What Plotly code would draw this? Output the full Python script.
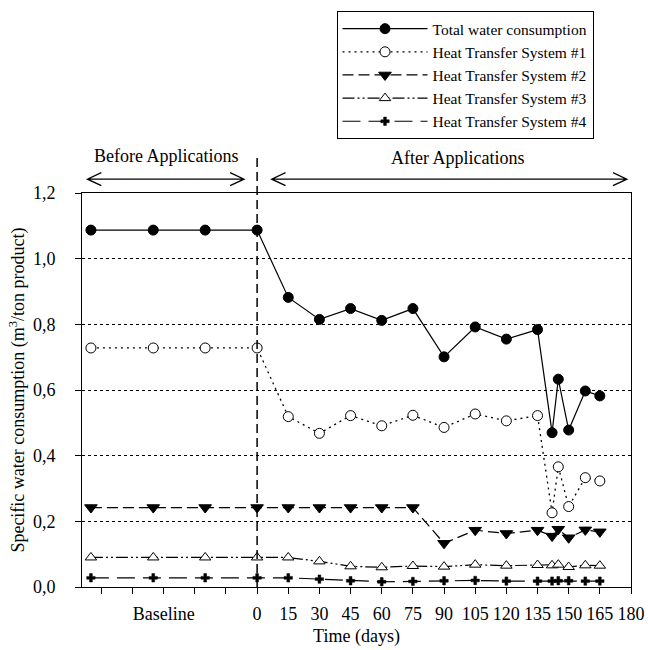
import plotly.graph_objects as go

# ---- data ----
days = [-80, -50, -25, 0, 15, 30, 45, 60, 75, 90, 105, 120, 135, 142, 145, 150, 158, 165]
total = [1.087, 1.087, 1.087, 1.087, 0.882, 0.815, 0.848, 0.812, 0.848, 0.701, 0.792, 0.755, 0.784,
         0.470, 0.633, 0.478, 0.597, 0.582]
hts1 = [0.728, 0.728, 0.728, 0.728, 0.519, 0.468, 0.522, 0.491, 0.523, 0.486, 0.527, 0.506, 0.522,
        0.226, 0.366, 0.245, 0.333, 0.323]
hts2 = [0.242, 0.242, 0.242, 0.242, 0.242, 0.242, 0.242, 0.242, 0.242, 0.133, 0.173, 0.163, 0.173,
        0.155, 0.176, 0.150, 0.174, 0.168]
hts3 = [0.090, 0.090, 0.090, 0.090, 0.090, 0.078, 0.063, 0.060, 0.064, 0.062, 0.068, 0.065, 0.067,
        0.066, 0.068, 0.061, 0.066, 0.065]
hts4 = [0.028, 0.028, 0.028, 0.028, 0.028, 0.024, 0.019, 0.016, 0.017, 0.019, 0.020, 0.018, 0.018,
        0.018, 0.019, 0.019, 0.018, 0.018]
series_names = ["Total water consumption", "Heat Transfer System #1", "Heat Transfer System #2",
                "Heat Transfer System #3", "Heat Transfer System #4"]

x_tickvals = [-45, 0, 15, 30, 45, 60, 75, 90, 105, 120, 135, 150, 165, 180]
x_ticktext = ["Baseline", "0", "15", "30", "45", "60", "75", "90", "105", "120",
              "135", "150", "165", "180"]
x_minor_tickvals = [-75, -60, -30, -15]
y_tickvals = [0.0, 0.2, 0.4, 0.6, 0.8, 1.0, 1.2]

before_span = [-81.7, -6.3]
after_span = [7.0, 178.0]

FONT = "Liberation Serif"

fig = go.Figure()

styles = [
    dict(line=dict(color="black", width=1.2, dash="solid"),
         marker=dict(symbol="circle", size=10, color="black", line=dict(color="black", width=1))),
    dict(line=dict(color="black", width=1.3, dash="2px,4px"),
         marker=dict(symbol="circle", size=10, color="white", line=dict(color="black", width=1))),
    dict(line=dict(color="black", width=1.2, dash="11px,5px"),
         marker=dict(symbol="triangle-down", size=11, color="black", line=dict(color="black", width=1))),
    dict(line=dict(color="black", width=1.2, dash="12px,3px,2px,3px,2px,3px"),
         marker=dict(symbol="triangle-up", size=10, color="white", line=dict(color="black", width=1))),
    dict(line=dict(color="black", width=1.2, dash="18px,8px"),
         marker=dict(symbol="cross", size=7, color="black", line=dict(color="black", width=0.5))),
]

for name, ys, st in zip(series_names, [total, hts1, hts2, hts3, hts4], styles):
    fig.add_trace(go.Scatter(x=days, y=ys, name=name, mode="lines+markers",
                             line=st["line"], marker=st["marker"]))

# vertical dashed separator at day 0
fig.add_shape(type="line", xref="x", yref="paper", x0=0, x1=0, y0=0, y1=1.09,
              line=dict(color="black", width=1.5, dash="9px,5px"))

# double-headed arrows
arrow_y = 1.035
hh = 0.0165
cw = 6.7
for a, b in [before_span, after_span]:
    path = (f"M {a + cw},{arrow_y + hh} L {a},{arrow_y} L {a + cw},{arrow_y - hh} "
            f"M {a},{arrow_y} L {b},{arrow_y} "
            f"M {b - cw},{arrow_y + hh} L {b},{arrow_y} L {b - cw},{arrow_y - hh}")
    fig.add_shape(type="path", xref="x", yref="paper", path=path,
                  line=dict(color="black", width=1.3))

fig.add_annotation(x=sum(before_span) / 2, y=1.093, xref="x", yref="paper",
                   xanchor="center", yanchor="middle",
                   text="Before Applications", showarrow=False,
                   font=dict(family=FONT, size=18, color="black"))
fig.add_annotation(x=sum(after_span) / 2 + 4, y=1.09, xref="x", yref="paper",
                   xanchor="center", yanchor="middle",
                   text="After Applications", showarrow=False,
                   font=dict(family=FONT, size=18, color="black"))

fig.update_layout(
    width=648, height=650,
    margin=dict(l=82, r=17, t=192, b=63),
    paper_bgcolor="white", plot_bgcolor="white",
    separators=",.",
    font=dict(family=FONT, size=18, color="black"),
    showlegend=True,
    legend=dict(x=0.4636, y=1.458, xanchor="left", yanchor="top",
                bgcolor="white", bordercolor="black", borderwidth=1,
                font=dict(family=FONT, size=15.5, color="black"),
                itemwidth=85, tracegroupgap=0),
    xaxis=dict(range=[-84.3, 180], tickvals=x_tickvals, ticktext=x_ticktext,
               tickangle=0, automargin=False,
               showgrid=False, zeroline=False, showline=True, linecolor="black", linewidth=1,
               mirror=True, ticks="outside", ticklen=6, tickcolor="black",
               ticklabelstandoff=4,
               minor=dict(tickvals=x_minor_tickvals, ticks="outside", ticklen=6,
                          tickcolor="black", showgrid=False),
               title=dict(text="Time (days)", font=dict(family=FONT, size=18), standoff=6),
               tickfont=dict(family=FONT, size=18)),
    yaxis=dict(range=[0, 1.2], tickvals=y_tickvals, tickformat=".1f",
               automargin=False,
               showgrid=True, gridcolor="black", gridwidth=1, griddash="dot",
               zeroline=False, showline=True, linecolor="black", linewidth=1,
               mirror=True, ticks="outside", ticklen=6, tickcolor="black",
               ticklabelstandoff=16,
               title=dict(text="Specific water consumption (m<sup>3</sup>/ton product)",
                          font=dict(family=FONT, size=18), standoff=3),
               tickfont=dict(family=FONT, size=18)),
)

fig.write_html("out.html", config={"displayModeBar": False},
               post_script="document.body.style.margin='0';document.body.style.overflow='hidden';")
